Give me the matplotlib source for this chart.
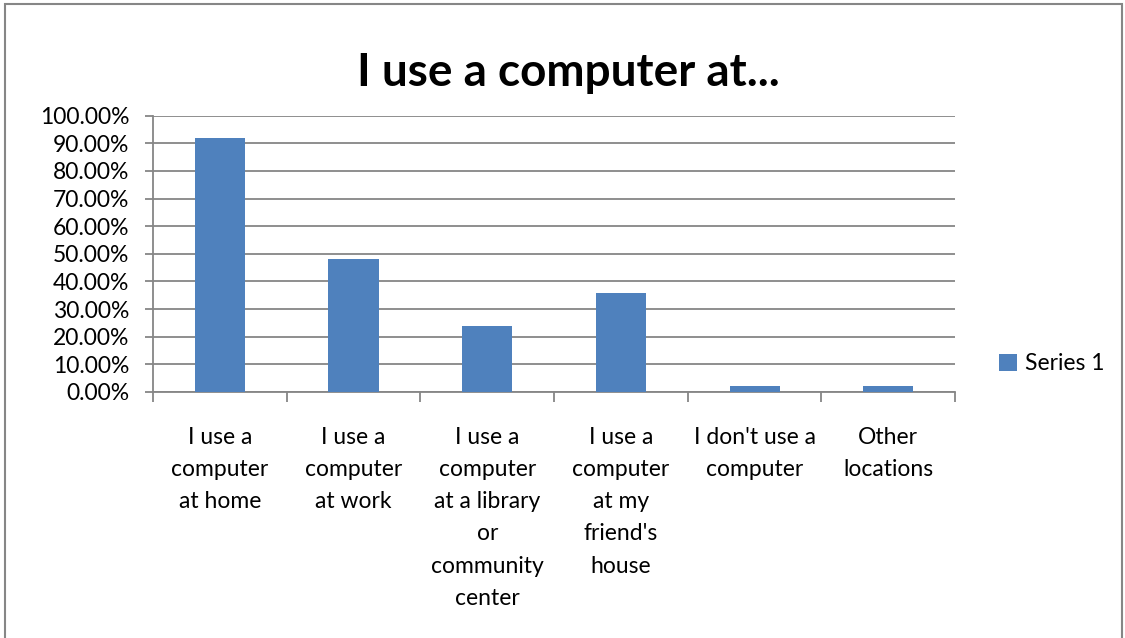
import numpy as np
import matplotlib
matplotlib.use('Agg')
import matplotlib.pyplot as plt
from matplotlib.patches import Rectangle
from matplotlib.ticker import FuncFormatter, FixedLocator

plt.rcParams['font.family'] = ['Lato', 'DejaVu Sans']

categories = [
    "I use a\ncomputer\nat home",
    "I use a\ncomputer\nat work",
    "I use a\ncomputer\nat a library\nor\ncommunity\ncenter",
    "I use a\ncomputer\nat my\nfriend's\nhouse",
    "I don't use a\ncomputer",
    "Other\nlocations",
]
series_1 = [0.92, 0.48, 0.24, 0.36, 0.02, 0.02]

bar_color = '#4f81bd'
line_color = '#868686'

fig = plt.figure(figsize=(11.25, 6.38), dpi=100)
ax = fig.add_axes([0.136, 0.3856, 0.713, 0.4331])

x = np.arange(len(categories))
ax.bar(x, series_1, width=0.375, color=bar_color, label='Series 1', zorder=3)

ax.set_xlim(-0.5, len(categories) - 0.5)
ax.set_ylim(0, 1.0)
ax.set_yticks(np.arange(0, 1.01, 0.1))
ax.yaxis.set_major_formatter(FuncFormatter(lambda v, p: f"{v * 100:.2f}%"))
ax.grid(axis='y', color=line_color, linewidth=1.3, zorder=0)

# category labels centred under each bar, boundary ticks between them
ax.set_xticks(x)
ax.set_xticklabels(categories, fontsize=16.5, linespacing=1.66, va='top')
ax.tick_params(axis='x', which='major', length=0, pad=25)
ax.xaxis.set_minor_locator(FixedLocator(np.arange(-0.5, len(categories), 1.0)))
ax.tick_params(axis='x', which='minor', length=7, width=1.3, color=line_color, direction='out')
ax.tick_params(axis='y', length=6, width=1.3, color=line_color, labelsize=16.5, pad=11)

for side in ['top', 'right']:
    ax.spines[side].set_visible(False)
for side in ['left', 'bottom']:
    ax.spines[side].set_color(line_color)
    ax.spines[side].set_linewidth(1.3)

fig.text(0.505, 0.886, "I use a computer at...", fontsize=33, fontweight='bold',
         ha='center', va='center')

leg = fig.legend(loc='center left', bbox_to_anchor=(0.870, 0.43), frameon=False,
                 fontsize=16.5, handlelength=0.75, handleheight=0.75, handletextpad=0.35)

# chart frame
fig.patches.append(Rectangle((5 / 1125, -0.05), 1117 / 1125, 1.05 - 4 / 638,
                             transform=fig.transFigure, fill=False,
                             edgecolor=line_color, linewidth=1.5))

fig.savefig('out.png', dpi=100)
